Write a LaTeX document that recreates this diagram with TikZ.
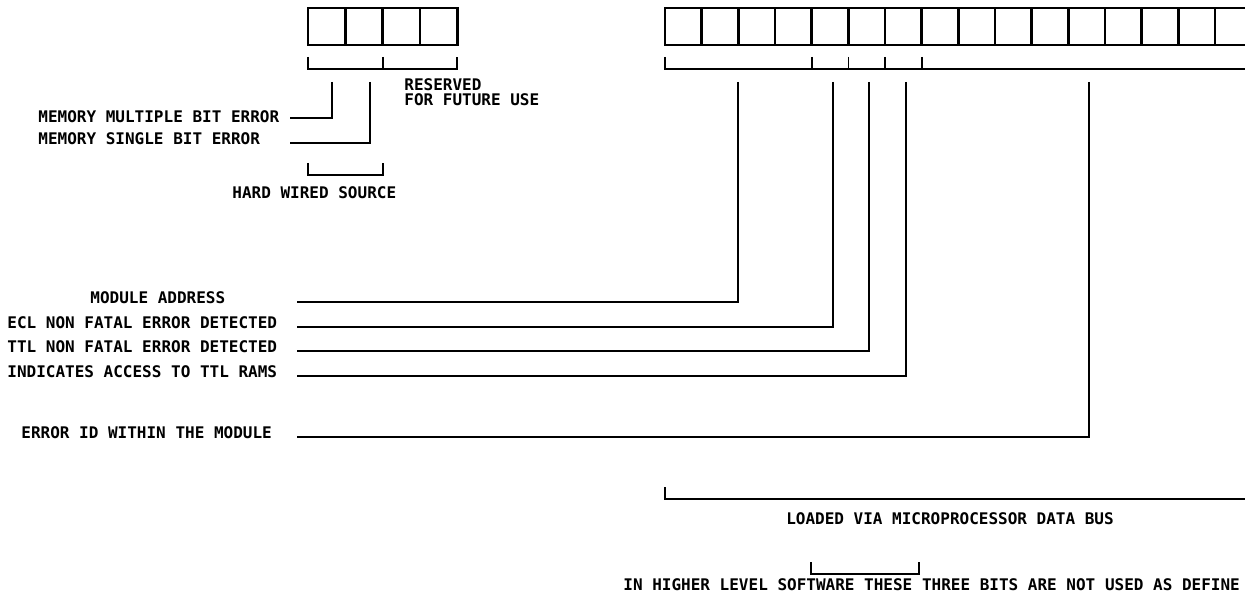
\documentclass[tikz,border=0pt]{standalone}
\usepackage{fontspec}
\setmonofont{DejaVu Sans Mono}
\usetikzlibrary{calc}

\begin{document}
\begin{tikzpicture}[x=0.5pt,y=-0.5pt,
    cell/.style={rectangle,draw,line width=1.3pt,minimum height=18.5pt,inner sep=0pt,outer sep=0pt},
    wire/.style={line width=0.8pt},
    lbl/.style={inner sep=0pt,font=\ttfamily\bfseries\fontsize{8}{7.5}\selectfont,align=left},
  ]
  \useasboundingbox (0,0) rectangle (1245,603);
  \clip (0,0) rectangle (1245,603);
  % 4 bit register
  \foreach \i in {1,...,4}
    \node[cell,minimum width=18.65pt] (l\i) at ({308+37.3*(\i-0.5)},26.5) {};
  % 16 bit register
  \foreach \i in {1,...,16}
    \node[cell,minimum width=18.33pt] (r\i) at ({665+36.67*(\i-0.5)},26.5) {};

  % brackets under the registers
  \draw[wire] (308,57) |- (457,69) -- (457,57);
  \draw[wire] (383,57) -- (383,69);
  \draw[wire] (665,57) |- (1245,69);
  \foreach \x in {811.7,848.3,885,921.7}
    \draw[wire] (\x,57) -- (\x,69);
  \draw[wire] (308,163) |- (383,175) -- (383,163);
  \draw[wire] (665,487) |- (1245,499);
  \draw[wire] (811,562) |- (919,574) -- (919,562);

  % labels
  \node[lbl,anchor=west] (mmb) at (38,117) {MEMORY MULTIPLE BIT ERROR};
  \node[lbl,anchor=west] (msb) at (38,139) {MEMORY SINGLE BIT ERROR};
  \node[lbl,anchor=west] (rsv) at (404,92.5) {RESERVED\\FOR FUTURE USE};
  \node[lbl,anchor=west] (hws) at (232,193) {HARD WIRED SOURCE};
  \node[lbl,anchor=west] (mad) at (90,298) {MODULE ADDRESS};
  \node[lbl,anchor=west] (ecl) at (7,323) {ECL NON FATAL ERROR DETECTED};
  \node[lbl,anchor=west] (ttl) at (7,347) {TTL NON FATAL ERROR DETECTED};
  \node[lbl,anchor=west] (ram) at (7,372) {INDICATES ACCESS TO TTL RAMS};
  \node[lbl,anchor=west] (eid) at (21,433) {ERROR ID WITHIN THE MODULE};
  \node[lbl] (bus) at (950,519) {LOADED VIA MICROPROCESSOR DATA BUS};
  \node[lbl,anchor=west] (sw) at (623,585) {IN HIGHER LEVEL SOFTWARE THESE THREE BITS ARE NOT USED AS DEFINE};

  % bit lines
  \coordinate (mmbtop) at (332,82);  \coordinate (mmbend) at (290,118);
  \coordinate (msbtop) at (370,82);  \coordinate (msbend) at (290,143);
  \coordinate (madtop) at (738,82);  \coordinate (madend) at (297,302);
  \coordinate (ecltop) at (833,82);  \coordinate (eclend) at (297,327);
  \coordinate (ttltop) at (869,82);  \coordinate (ttlend) at (297,351);
  \coordinate (ramtop) at (906,82);  \coordinate (ramend) at (297,376);
  \coordinate (eidtop) at (1089,82); \coordinate (eidend) at (297,437);
  \foreach \b in {mmb,msb,mad,ecl,ttl,ram,eid}
    \draw[wire] (\b top) |- (\b end);
\end{tikzpicture}
\end{document}
